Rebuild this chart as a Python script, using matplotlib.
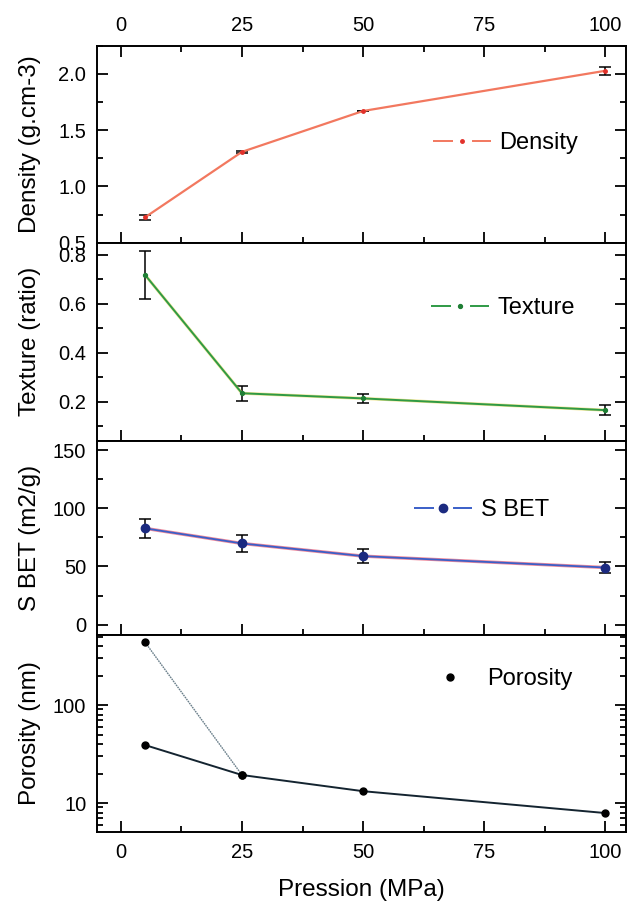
import matplotlib
matplotlib.use("Agg")
import matplotlib.pyplot as plt
from matplotlib.lines import Line2D
from matplotlib.ticker import MultipleLocator, FixedLocator, LogLocator, NullFormatter, FixedFormatter

plt.rcParams['font.family'] = ['Liberation Sans', 'DejaVu Sans']
plt.rcParams['lines.scale_dashes'] = False

# ---- data ----
pression = [5, 25, 50, 100]

density = [0.726, 1.307, 1.67, 2.027]
density_err = [0.02, 0.008, 0.0, 0.033]

texture = [0.718, 0.235, 0.214, 0.166]
texture_err = [0.10, 0.03, 0.02, 0.02]

sbet = [82.8, 69.8, 58.9, 49.1]
sbet_err = [8.0, 7.0, 6.0, 5.0]

porosity_x = [5, 25, 50, 100]
porosity = [39.0, 19.3, 13.2, 7.9]
porosity_macro_x = [5, 25]
porosity_macro = [436.0, 19.3]

x_ticks = [0, 25, 50, 75, 100]

# ---- layout ----
W, H = 629, 902
fig = plt.figure(figsize=(W / 100, H / 100), dpi=100)
left_px, right_px = 96.7, 626.0
bounds = [(45.7, 242.7), (242.7, 441.0), (441.0, 635.0), (635.0, 832.0)]
axes = []
for top, bot in bounds:
    ax = fig.add_axes([left_px / W, 1 - bot / H, (right_px - left_px) / W, (bot - top) / H])
    axes.append(ax)

TICK_FS = 14.5
LABEL_FS = 17.5
LEG_FS = 17
HANDLE_LEN = 41.8 / LEG_FS

for i, ax in enumerate(axes):
    ax.set_xlim(-5, 104.3)
    ax.xaxis.set_major_locator(FixedLocator(x_ticks))
    ax.xaxis.set_minor_locator(MultipleLocator(12.5))
    for s in ax.spines.values():
        s.set_linewidth(1.4)
    ax.tick_params(axis='both', which='both', direction='in', right=True,
                   labelsize=TICK_FS, width=1.3)
    ax.tick_params(axis='both', which='major', length=8)
    ax.tick_params(axis='both', which='minor', length=4.5)
    ax.tick_params(axis='y', pad=7.5)
    ax.tick_params(axis='x', pad=8)
    if i == 0:
        ax.tick_params(axis='x', which='both', top=True, bottom=True,
                       labeltop=True, labelbottom=False)
    elif i == 3:
        ax.tick_params(axis='x', which='both', top=False, bottom=True,
                       labeltop=False, labelbottom=True)
    else:
        ax.tick_params(axis='x', which='both', top=False, bottom=True,
                       labeltop=False, labelbottom=False)
    ax.yaxis.set_label_coords(-0.105, 0.5)


def split_handle(color, mcolor, ms):
    line = Line2D([], [], color=color, lw=1.4, linestyle=(0, (14.4, 13.7)))
    dot = Line2D([], [], color=mcolor, marker='o', markersize=ms, linestyle='none')
    return (line, dot)


def add_legend(ax, handle, text, x, y):
    ax.legend([handle], [text], loc='center left', bbox_to_anchor=(x, y),
              frameon=False, fontsize=LEG_FS, handlelength=HANDLE_LEN,
              handletextpad=0.35, borderpad=0, borderaxespad=0)


err_kw = dict(ecolor='black', elinewidth=1.1, capsize=4, capthick=1.1, zorder=2)

# Density
ax = axes[0]
ax.errorbar(pression, density, yerr=density_err, fmt='none', **err_kw)
ax.plot(pression, density, color='#f2785f', lw=1.6, zorder=3)
ax.plot(pression, density, 'o', color='#e2312a', markersize=2.5, zorder=4)
ax.set_ylim(0.5, 2.25)
ax.yaxis.set_major_locator(MultipleLocator(0.5))
ax.yaxis.set_minor_locator(MultipleLocator(0.25))
ax.yaxis.set_major_formatter(plt.FormatStrFormatter('%.1f'))
ax.set_ylabel('Density (g.cm-3)', fontsize=LABEL_FS)
add_legend(ax, split_handle('#f2785f', '#e2312a', 2.5), 'Density', 0.635, 0.505)

# Texture
ax = axes[1]
ax.errorbar(pression, texture, yerr=texture_err, fmt='none', **err_kw)
ax.plot(pression, texture, color='#e6d34a', lw=2.2, zorder=3, alpha=0.6)
ax.plot(pression, texture, color='#2f9a45', lw=1.4, zorder=3)
ax.plot(pression, texture, 'o', color='#1f7f35', markersize=2.8, zorder=4)
ax.set_ylim(0.04, 0.85)
ax.yaxis.set_major_locator(MultipleLocator(0.2))
ax.yaxis.set_minor_locator(MultipleLocator(0.1))
ax.yaxis.set_major_formatter(plt.FormatStrFormatter('%.1f'))
ax.set_ylabel('Texture (ratio)', fontsize=LABEL_FS)
add_legend(ax, split_handle('#2f9a45', '#1f7f35', 2.8), 'Texture', 0.632, 0.671)

# S BET
ax = axes[2]
ax.errorbar(pression, sbet, yerr=sbet_err, fmt='none', **err_kw)
ax.plot(pression, sbet, color='#f08a9a', lw=2.4, zorder=3)
ax.plot(pression, sbet, color='#3a5fc8', lw=1.3, zorder=3)
ax.plot(pression, sbet, 'o', color='#1b2a80', markersize=6, zorder=4)
ax.set_ylim(-9, 158)
ax.yaxis.set_major_locator(MultipleLocator(50))
ax.yaxis.set_minor_locator(MultipleLocator(25))
ax.set_ylabel('S BET (m2/g)', fontsize=LABEL_FS)
add_legend(ax, split_handle('#3a5fc8', '#1b2a80', 6), 'S BET', 0.600, 0.644)

# Porosity
ax = axes[3]
ax.set_yscale('log')
ax.plot(porosity_macro_x, porosity_macro, color='#6a7f8a', lw=1.0,
        linestyle=(0, (1.2, 0.6)), zorder=3)
ax.plot(porosity_macro_x, porosity_macro, 'o', color='black', markersize=5, zorder=4)
ax.plot(porosity_x, porosity, color='#142430', lw=1.4, zorder=3)
ax.plot(porosity_x, porosity, 'o', color='black', markersize=5, zorder=4)
ax.set_ylim(5.06, 518)
ax.yaxis.set_major_locator(FixedLocator([10, 100]))
ax.yaxis.set_major_formatter(FixedFormatter(['10', '100']))
ax.yaxis.set_minor_locator(LogLocator(base=10, subs=[2, 3, 4, 5, 6, 7, 8, 9]))
ax.yaxis.set_minor_formatter(NullFormatter())
ax.set_ylabel('Porosity (nm)', fontsize=LABEL_FS)
ax.set_xlabel('Pression (MPa)', fontsize=LABEL_FS)
ax.xaxis.set_label_coords(0.5, -0.24)
ax.legend([Line2D([], [], color='black', marker='o', markersize=5, linestyle='none')],
          ['Porosity'], loc='center left', bbox_to_anchor=(0.612, 0.777),
          frameon=False, fontsize=LEG_FS, handlelength=HANDLE_LEN, handletextpad=0.35,
          borderpad=0, borderaxespad=0)

fig.savefig('out.png', dpi=100)
